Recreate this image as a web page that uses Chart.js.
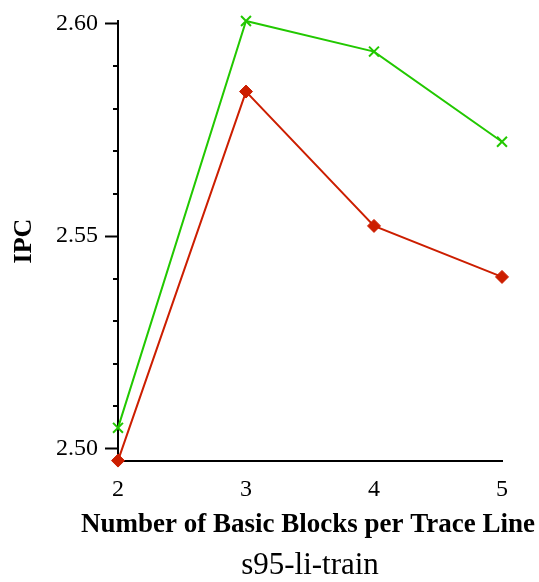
<!DOCTYPE html>
<html>
<head>
<meta charset="utf-8">
<script src="https://cdn.jsdelivr.net/npm/chart.js@4/dist/chart.umd.min.js"></script>
<style>
  html, body { margin: 0; padding: 0; background: #fff; }
  #wrap { width: 539px; height: 582px; }
</style>
</head>
<body>
<div id="wrap"><canvas id="ipc-chart"></canvas></div>
<script>
const blocks = [2, 3, 4, 5];
const ipcGreen = [2.5049, 2.6006, 2.5934, 2.5722];
const ipcRed = [2.4972, 2.5840, 2.5524, 2.5404];
const yTicks = [2.50, 2.51, 2.52, 2.53, 2.54, 2.55, 2.56, 2.57, 2.58, 2.59, 2.60];
const majorTicks = [2.50, 2.55, 2.60];

const serif = "'Liberation Serif', 'Times New Roman', serif";
const isMajor = (v) => majorTicks.some((m) => Math.abs(m - v) < 1e-6);

// short minor tick marks on the y axis
const minorTicks = {
  id: "minorTicks",
  afterDraw(chart) {
    const y = chart.scales.y;
    const ctx = chart.ctx;
    ctx.save();
    ctx.strokeStyle = "#000";
    ctx.lineWidth = 2;
    yTicks.forEach((v) => {
      if (isMajor(v)) return;
      const py = Math.round(y.getPixelForValue(v));
      ctx.beginPath();
      ctx.moveTo(y.right - 5, py);
      ctx.lineTo(y.right, py);
      ctx.stroke();
    });
    ctx.restore();
  },
};

new Chart("ipc-chart", {
  type: "line",
  data: {
    labels: blocks,
    datasets: [
      {
        data: ipcGreen,
        xAxisID: "x",
        yAxisID: "y",
        borderColor: "#22c800",
        backgroundColor: "#22c800",
        borderWidth: 2,
        pointStyle: "crossRot",
        pointRadius: 7,
        pointBorderWidth: 2,
        clip: false,
      },
      {
        data: ipcRed,
        xAxisID: "x",
        yAxisID: "y",
        borderColor: "#cc1e00",
        backgroundColor: "#cc1e00",
        borderWidth: 2,
        pointStyle: "rectRot",
        pointRadius: 6.5,
        pointBorderWidth: 1,
        clip: false,
      },
    ],
  },
  options: {
    responsive: true,
    maintainAspectRatio: false,
    animation: false,
    layout: { padding: { left: 0, top: 0, bottom: 0, right: 4 } },
    plugins: {
      legend: { display: false },
      tooltip: { enabled: false },
      // x axis label, wider than the plot so it goes in the title box
      title: {
        display: true,
        position: "bottom",
        align: "end",
        weight: 1,
        text: "Number of Basic Blocks per Trace Line",
        color: "#000",
        font: { family: serif, size: 27, weight: "bold" },
        padding: { top: 1, bottom: 1 },
      },
    },
    scales: {
      x: {
        type: "linear",
        min: 2,
        max: 5,
        weight: 0,
        afterBuildTicks: (s) => { s.ticks = blocks.map((v) => ({ value: v })); },
        afterFit: (s) => { s.height = 47; },
        grid: { display: false, drawTicks: false },
        border: { display: true, color: "#000", width: 2 },
        ticks: { color: "#000", padding: 15, font: { family: serif, size: 24 } },
      },
      x2: {
        type: "linear",
        position: "bottom",
        weight: 2,
        min: 2,
        max: 5,
        afterFit: (s) => { s.height = 40; },
        grid: { display: false },
        border: { display: false },
        ticks: { display: false },
        title: {
          display: true,
          text: "s95-li-train",
          color: "#000",
          font: { family: serif, size: 31 },
          padding: { top: 0, bottom: -2 },
        },
      },
      yR: {
        type: "linear",
        position: "right",
        afterFit: (s) => { s.width = 33; },
        grid: { display: false },
        border: { display: false },
        ticks: { display: false },
      },
      y: {
        min: 2.4972,
        max: 2.6005,
        afterBuildTicks: (s) => { s.ticks = yTicks.map((v) => ({ value: v })); },
        afterFit: (s) => { s.width = 118; },
        grid: {
          drawOnChartArea: false,
          drawTicks: true,
          tickLength: 13,
          tickWidth: 2,
          tickColor: (c) => (isMajor(c.tick.value) ? "#000" : "rgba(0,0,0,0)"),
        },
        border: { display: true, color: "#000", width: 2 },
        ticks: {
          color: "#000",
          padding: 7,
          font: { family: serif, size: 24 },
          callback: (v) => (isMajor(v) ? v.toFixed(2) : ""),
        },
        title: {
          display: true,
          text: "IPC",
          color: "#000",
          font: { family: serif, size: 26, weight: "bold" },
          padding: { top: 9, bottom: 0 },
        },
      },
    },
  },
  plugins: [minorTicks],
});
</script>
</body>
</html>
